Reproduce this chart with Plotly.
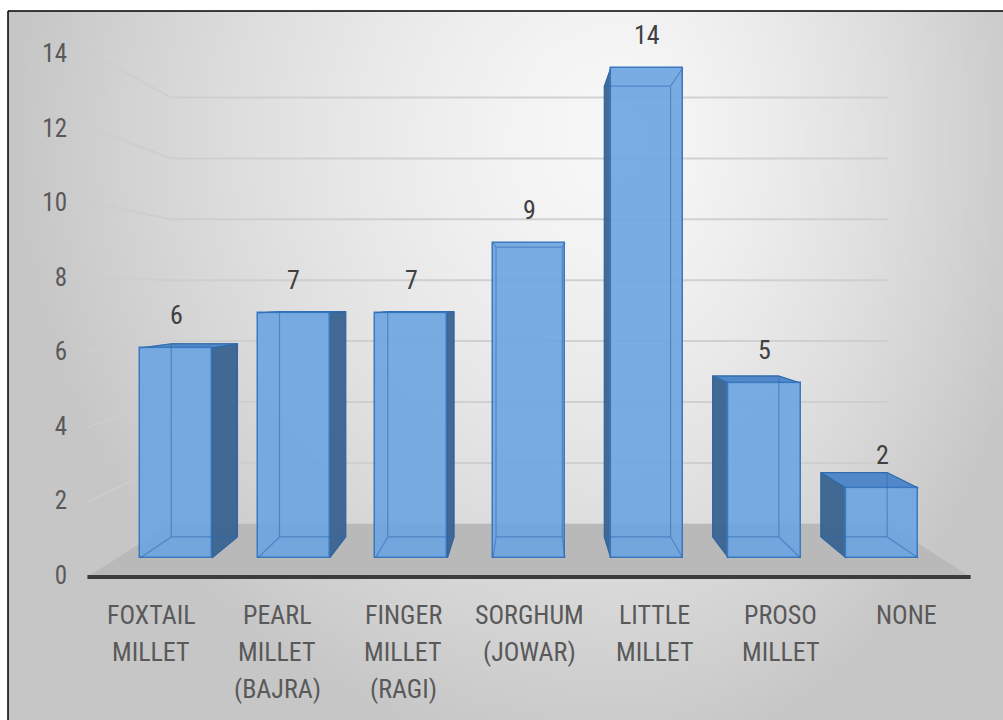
import base64
import math
import struct
import zlib

import plotly.graph_objects as go

# ---------------- data ----------------
categories = ["FOXTAIL<br>MILLET", "PEARL<br>MILLET<br>(BAJRA)", "FINGER<br>MILLET<br>(RAGI)",
              "SORGHUM<br>(JOWAR)", "LITTLE<br>MILLET", "PROSO<br>MILLET", "NONE"]
values = [6, 7, 7, 9, 14, 5, 2]
y_tick_values = [0, 2, 4, 6, 8, 10, 12, 14]
y_tick_labels = [str(v) for v in y_tick_values]

# ---------------- geometry / style ----------------
W, H = 1003, 720
ML = 75
PX_X0, PX_DX = 176.0, 117.7      # px of category 0, px per category
PX_Y0, PX_DY = 558.0, 35.0       # px of value 0, px per value unit
VX = (530.0 - PX_X0) / PX_DX     # vanishing centre in data units
VY = (PX_Y0 - 295.0) / PX_DY
S_BACK = 0.92                    # back face of the bars
S_FRONT_FLOOR = 1.072            # front edge of the floor
S_WALL = 0.87                    # back wall
S_LABEL = 1.065                  # y tick labels on the left wall
S_CAT = 1.07                     # category labels
HALF = 0.306                     # half bar width (category units)

FONT = "Liberation Sans Narrow, Roboto Condensed, Roboto, sans-serif"
TXT = "#595959"


def proj(x, y, s):
    return VX + s * (x - VX), VY + s * (y - VY)


def path(points, close=True):
    p = "M " + " L ".join(f"{x:.4f},{y:.4f}" for x, y in points)
    return p + (" Z" if close else "")


def make_png(w, h, func):
    rows = []
    for yy in range(h):
        row = bytearray([0])
        for xx in range(w):
            row.extend(func(xx, yy))
        rows.append(bytes(row))
    raw = b"".join(rows)

    def chunk(t, d):
        c = struct.pack(">I", len(d)) + t + d
        return c + struct.pack(">I", zlib.crc32(t + d) & 0xFFFFFFFF)

    png = (b"\x89PNG\r\n\x1a\n" + chunk(b"IHDR", struct.pack(">IIBBBBB", w, h, 8, 2, 0, 0, 0))
           + chunk(b"IDAT", zlib.compress(raw, 9)) + chunk(b"IEND", b""))
    return "data:image/png;base64," + base64.b64encode(png).decode()


GW, GH = 200, 142
BX0, BY0, BX1, BY1 = 8, 11, 1003, 720


def bg_pixel(xx, yy):
    px = BX0 + (xx + 0.5) * (BX1 - BX0) / GW
    py = BY0 + (yy + 0.5) * (BY1 - BY0) / GH
    dx = (px - 620) / (612 if px < 620 else 430)
    dy = (py - 140) / 630
    d = min(1.0, math.sqrt(dx * dx + dy * dy))
    c = int(248 - 50 * d ** 1.4)
    return (c, c, c)


bg_uri = make_png(GW, GH, bg_pixel)

x_range = [(ML - PX_X0) / PX_DX, (W - PX_X0) / PX_DX]
y_range = [(PX_Y0 - H) / PX_DY, PX_Y0 / PX_DY]
n = len(categories)

shapes = []

# floor
fl = [proj(-0.5, 0, S_FRONT_FLOOR), proj(n - 0.5, 0, S_FRONT_FLOOR),
      proj(n - 0.5, 0, S_WALL), proj(-0.5, 0, S_WALL)]
shapes.append(dict(type="path", path=path(fl), xref="x", yref="y", layer="below",
                   fillcolor="#b9b9b9", line=dict(width=0)))

# wall gridlines
for v in y_tick_values[1:]:
    a = proj(-0.5, v, S_FRONT_FLOOR)
    b = proj(-0.5, v, S_WALL)
    c = proj(n - 0.5, v, S_WALL)
    shapes.append(dict(type="path", path=path([a, b, c], close=False), xref="x", yref="y",
                       layer="below", line=dict(color="rgba(205,205,205,0.9)", width=2)))

# floor front edge
shapes.append(dict(type="line", xref="x", yref="y", layer="below",
                   x0=fl[0][0], y0=fl[0][1], x1=fl[1][0], y1=fl[1][1],
                   line=dict(color="#3c3c3c", width=4)))

# 3-D faces of the bars
SIDE = "rgba(58,98,144,0.95)"
TOP = "rgba(74,132,200,0.95)"
EDGE = "rgba(45,105,175,0.55)"
for i, v in enumerate(values):
    lf, rf = i - HALF, i + HALF
    fb = {(x, y): proj(x, y, S_BACK) for x in (lf, rf) for y in (0, v)}
    if fb[(rf, 0)][0] > rf + 1e-6:
        shapes.append(dict(type="path", xref="x", yref="y", layer="below", fillcolor=SIDE,
                           path=path([(rf, 0), (rf, v), fb[(rf, v)], fb[(rf, 0)]]),
                           line=dict(color="#2f5f94", width=1)))
    if fb[(lf, 0)][0] < lf - 1e-6:
        shapes.append(dict(type="path", xref="x", yref="y", layer="below", fillcolor=SIDE,
                           path=path([(lf, 0), (lf, v), fb[(lf, v)], fb[(lf, 0)]]),
                           line=dict(color="#2f5f94", width=1)))
    if fb[(lf, v)][1] > v:
        shapes.append(dict(type="path", xref="x", yref="y", layer="below", fillcolor=TOP,
                           path=path([(lf, v), (rf, v), fb[(rf, v)], fb[(lf, v)]]),
                           line=dict(color="#2f6aa8", width=1)))
    # hidden (back) edges seen through the translucent box
    back = [fb[(lf, 0)], fb[(rf, 0)], fb[(rf, v)], fb[(lf, v)]]
    p = path(back)
    for x, y in [(lf, 0), (rf, 0), (rf, v), (lf, v)]:
        bx, by = fb[(x, y)]
        p += f" M {x:.4f},{y:.4f} L {bx:.4f},{by:.4f}"
    shapes.append(dict(type="path", xref="x", yref="y", layer="above", path=p,
                       line=dict(color=EDGE, width=1.2)))

# frame of the picture
fx0 = (BX0 - ML) / (W - ML)
fy1 = 1 - BY0 / H
shapes.append(dict(type="line", xref="paper", yref="paper", x0=fx0, x1=1.01, y0=fy1, y1=fy1,
                   line=dict(color="black", width=1.5)))
shapes.append(dict(type="line", xref="paper", yref="paper", x0=fx0, x1=fx0, y0=-0.01, y1=fy1,
                   line=dict(color="black", width=1.5)))

fig = go.Figure()
fig.add_trace(go.Bar(
    x=list(range(n)), y=values, width=2 * HALF,
    marker=dict(color="rgba(106,164,224,0.9)", line=dict(color="#3a78c0", width=1.5)),
    hoverinfo="skip", showlegend=False,
))

annotations = []
for i, v in enumerate(values):
    annotations.append(dict(x=i, y=v, xref="x", yref="y", text=str(v), showarrow=False,
                            yanchor="middle", yshift=33,
                            font=dict(family=FONT, size=26, color="#404040")))
for i, lab in enumerate(categories):
    cx, _ = proj(i, 0, S_CAT)
    for j, line in enumerate(lab.split("<br>")):
        ypx = 615 + 37 * j
        annotations.append(dict(x=cx, y=1 - ypx / H, xref="x", yref="paper", text=line,
                                showarrow=False, yanchor="middle", xanchor="center",
                                font=dict(family=FONT, size=26, color=TXT)))

tickpos = [VY + S_LABEL * (v - VY) for v in y_tick_values]

fig.update_layout(
    width=W, height=H,
    margin=dict(l=ML, r=0, t=0, b=0),
    paper_bgcolor="white", plot_bgcolor="rgba(0,0,0,0)",
    xaxis=dict(range=x_range, showgrid=False, zeroline=False, showticklabels=False,
               showline=False, ticks="", fixedrange=True),
    yaxis=dict(range=y_range, showgrid=False, zeroline=False, showline=False, ticks="",
               tickvals=tickpos, ticktext=y_tick_labels, ticklabelstandoff=7,
               tickfont=dict(family=FONT, size=25, color=TXT), fixedrange=True),
    shapes=shapes, annotations=annotations,
    images=[dict(source=bg_uri, xref="paper", yref="paper", x=fx0, y=fy1,
                 sizex=1 - fx0, sizey=fy1 + 0.001, xanchor="left", yanchor="top",
                 sizing="stretch", layer="below")],
    bargap=0,
)

fig.write_html("out.html")
